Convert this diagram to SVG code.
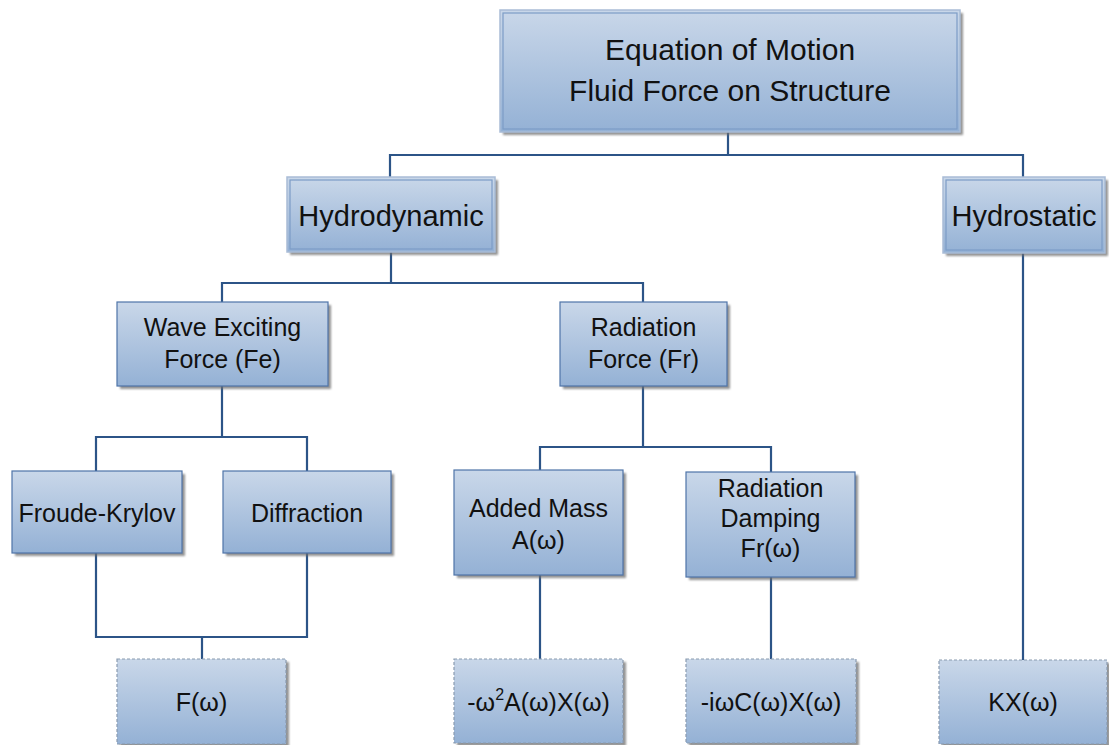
<svg xmlns="http://www.w3.org/2000/svg" width="1109" height="745" viewBox="0 0 1109 745">
<defs>
<linearGradient id="g" x1="0" y1="0" x2="0" y2="1">
<stop offset="0" stop-color="#C9D7E9"/>
<stop offset="1" stop-color="#94B1D5"/>
</linearGradient>
<filter id="sh" x="-10%" y="-10%" width="130%" height="130%">
<feGaussianBlur stdDeviation="1.2"/>
</filter>
<style>
.shadow{fill:#6E6E6E;opacity:0.75;filter:url(#sh)}
.box{fill:url(#g);stroke:#4F74A8;stroke-width:1.2}
.box2{fill:url(#g);stroke:#A9BCD6;stroke-width:1.5}
.inner{fill:none;stroke:#7C9CC6;stroke-width:1.2}
.dash{fill:url(#g);stroke:#8A9BB0;stroke-width:1.2;stroke-dasharray:3 2}
.t{font-family:"Liberation Sans",Arial,sans-serif;fill:#111;text-anchor:middle}
.top{font-size:30px}
.big{font-size:29px}
.mid{font-size:25px}
.con line{stroke:#2C5487;stroke-width:2.2;fill:none}
</style>
</defs>

<g class="con" id="connectors">
<line x1="728" y1="132" x2="728" y2="155"/>
<line x1="389" y1="155" x2="1024" y2="155"/>
<line x1="390" y1="154" x2="390" y2="177"/>
<line x1="1023" y1="154" x2="1023" y2="177"/>
<line x1="391" y1="252" x2="391" y2="283"/>
<line x1="221" y1="283" x2="644" y2="283"/>
<line x1="222" y1="282" x2="222" y2="302"/>
<line x1="643" y1="282" x2="643" y2="302"/>
<line x1="222" y1="386" x2="222" y2="437"/>
<line x1="95" y1="437" x2="308" y2="437"/>
<line x1="96" y1="436" x2="96" y2="471"/>
<line x1="307" y1="436" x2="307" y2="471"/>
<line x1="643" y1="386" x2="643" y2="447"/>
<line x1="539" y1="447" x2="772" y2="447"/>
<line x1="540" y1="446" x2="540" y2="470"/>
<line x1="771" y1="446" x2="771" y2="472"/>
<line x1="96" y1="553" x2="96" y2="638"/>
<line x1="307" y1="553" x2="307" y2="638"/>
<line x1="95" y1="637" x2="308" y2="637"/>
<line x1="202" y1="637" x2="202" y2="659"/>
<line x1="540" y1="575" x2="540" y2="659"/>
<line x1="771" y1="577" x2="771" y2="659"/>
<line x1="1023" y1="253" x2="1023" y2="660"/>
</g>

<g id="n-top">
<rect class="shadow" x="503" y="13" width="460" height="122"/>
<rect class="box2" x="500" y="10" width="460" height="122"/>
<rect class="inner" x="503" y="13" width="454" height="116"/>
<text class="t top" x="730" y="60">Equation of Motion</text>
<text class="t top" x="730" y="101">Fluid Force on Structure</text>
</g>

<g id="n-hydrodynamic">
<rect class="shadow" x="290" y="180" width="208" height="75"/>
<rect class="box2" x="287" y="177" width="208" height="75"/>
<rect class="inner" x="290" y="180" width="202" height="69"/>
<text class="t big" x="391" y="226">Hydrodynamic</text>
</g>

<g id="n-hydrostatic">
<rect class="shadow" x="946" y="180" width="162" height="76"/>
<rect class="box2" x="943" y="177" width="162" height="76"/>
<rect class="inner" x="946" y="180" width="156" height="70"/>
<text class="t big" x="1024" y="226">Hydrostatic</text>
</g>

<g id="n-wave">
<rect class="shadow" x="120" y="305" width="211" height="84"/>
<rect class="box" x="117" y="302" width="211" height="84"/>
<text class="t mid" x="222.5" y="336">Wave Exciting</text>
<text class="t mid" x="222.5" y="368">Force (Fe)</text>
</g>

<g id="n-radiation">
<rect class="shadow" x="563" y="305" width="167" height="84"/>
<rect class="box" x="560" y="302" width="167" height="84"/>
<text class="t mid" x="643.5" y="336">Radiation</text>
<text class="t mid" x="643.5" y="368">Force (Fr)</text>
</g>

<g id="n-froude">
<rect class="shadow" x="15" y="474" width="170" height="82"/>
<rect class="box" x="12" y="471" width="170" height="82"/>
<text class="t mid" x="97" y="522">Froude-Krylov</text>
</g>

<g id="n-diffraction">
<rect class="shadow" x="226" y="474" width="168" height="82"/>
<rect class="box" x="223" y="471" width="168" height="82"/>
<text class="t mid" x="307" y="522">Diffraction</text>
</g>

<g id="n-added">
<rect class="shadow" x="457" y="473" width="169" height="105"/>
<rect class="box" x="454" y="470" width="169" height="105"/>
<text class="t mid" x="538.5" y="517">Added Mass</text>
<text class="t mid" x="538.5" y="549">A(ω)</text>
</g>

<g id="n-damping">
<rect class="shadow" x="689" y="475" width="169" height="105"/>
<rect class="box" x="686" y="472" width="169" height="105"/>
<text class="t mid" x="770.5" y="497">Radiation</text>
<text class="t mid" x="770.5" y="527">Damping</text>
<text class="t mid" x="770.5" y="557">Fr(ω)</text>
</g>

<g id="n-fw">
<rect class="shadow" x="120" y="662" width="169" height="85"/>
<rect class="dash" x="117" y="659" width="169" height="85"/>
<text class="t mid" x="201.5" y="711">F(ω)</text>
</g>

<g id="n-added-term">
<rect class="shadow" x="457" y="662" width="169" height="84"/>
<rect class="dash" x="454" y="659" width="169" height="84"/>
<text class="t mid" x="538.5" y="711">-ω<tspan font-size="16" dy="-11">2</tspan><tspan dy="11">A(ω)X(ω)</tspan></text>
</g>

<g id="n-damping-term">
<rect class="shadow" x="689" y="662" width="170" height="84"/>
<rect class="dash" x="686" y="659" width="170" height="84"/>
<text class="t mid" x="771" y="711">-iωC(ω)X(ω)</text>
</g>

<g id="n-kx">
<rect class="shadow" x="942" y="663" width="168" height="84"/>
<rect class="dash" x="939" y="660" width="168" height="84"/>
<text class="t mid" x="1023" y="711">KX(ω)</text>
</g>
</svg>
